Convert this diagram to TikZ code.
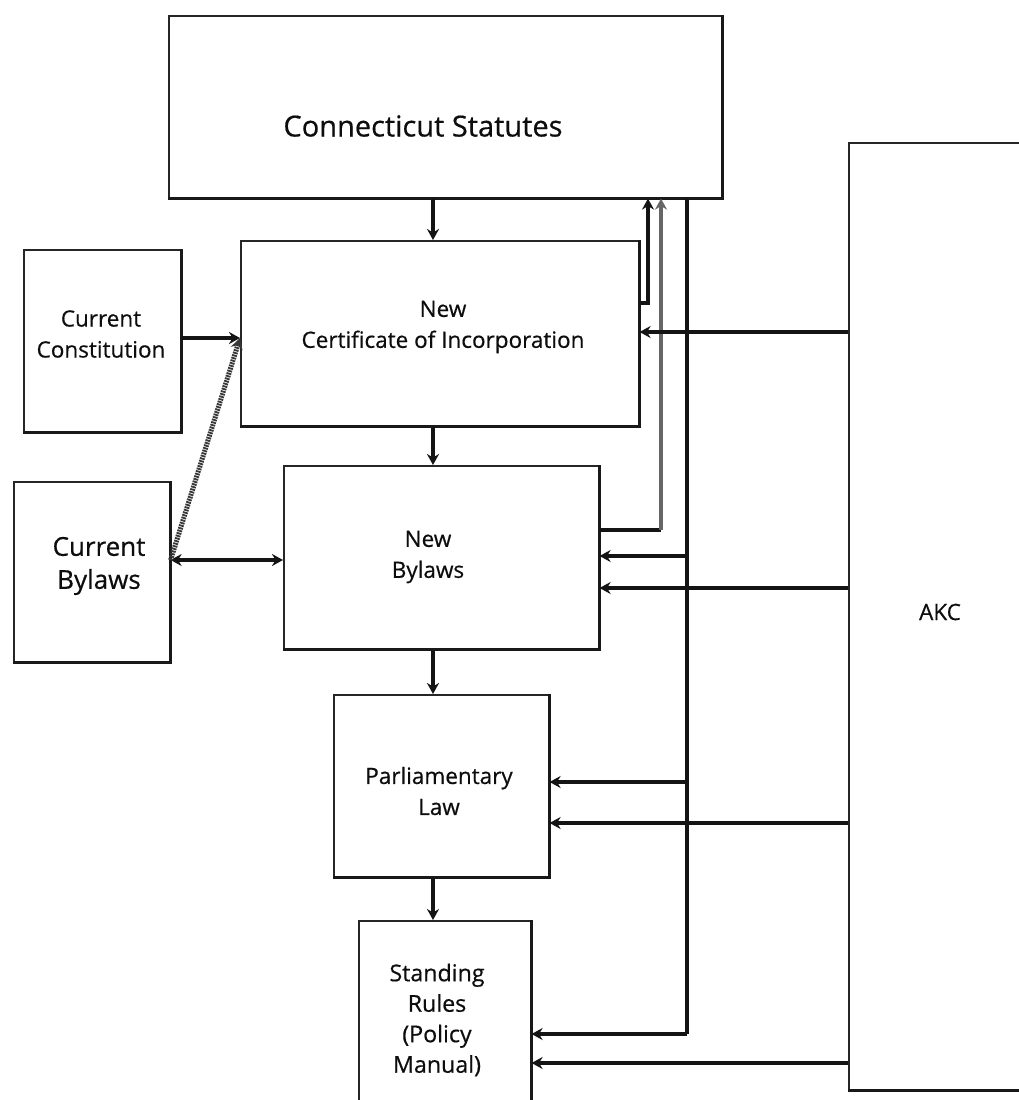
\documentclass[tikz,border=0pt]{standalone}
\usepackage{fontspec}
\setmainfont{Open Sans}[FakeBold=0.5]
\usetikzlibrary{arrows.meta}
\begin{document}
\begin{tikzpicture}[x=1pt,y=-1pt,
  box/.style={draw=black!85, line width=1.6pt, rectangle, anchor=north west, inner sep=0pt},
  shadowedge/.style={draw=black!90, line width=3.2pt},
  txt/.style={align=center, text=black!95, font=\fontsize{22.5}{31}\selectfont},
  arr/.style={draw=black!92, line width=3.6pt, -{Stealth[length=11pt,width=12pt]}},
  dblarr/.style={draw=black!92, line width=3.6pt, {Stealth[length=11pt,width=12pt]}-{Stealth[length=11pt,width=12pt]}},
  plain/.style={draw=black!92, line width=3.6pt},
  grayarr/.style={draw=black!60, line width=3.6pt, -{Stealth[length=11pt,width=12pt]}},
  hatcharr/.style={draw=black!78, line width=5pt, dash pattern=on 1.8pt off 0.9pt, -{Stealth[length=11pt,width=12pt]}},
]
\useasboundingbox (0,0) rectangle (1018,1100);
\fill[white] (0,0) rectangle (1018,1100);

% boxes
\node[box, minimum width=553, minimum height=182] (cs) at (168,15) {};
\node[box, minimum width=398, minimum height=185] (nci) at (240,240) {};
\node[box, minimum width=157, minimum height=182] (cc) at (23,249) {};
\node[box, minimum width=156, minimum height=180] (cb) at (13,481) {};
\node[box, minimum width=315, minimum height=183] (nb) at (283,465) {};
\node[box, minimum width=215, minimum height=182] (pl) at (333,694) {};
\node[box, minimum width=172, minimum height=220] (sr) at (358,920) {};
\node[box, minimum width=190, minimum height=947] (akc) at (848,142) {};

\foreach \b in {cs,nci,cc,cb,nb,pl,sr}{
  \draw[shadowedge] (\b.north east) -- (\b.south east) -- (\b.south west);
}
\draw[shadowedge] (akc.south west) -- (akc.south east);

% texts
\node[txt, font=\fontsize{29}{34}\selectfont] (cst) at (423,126) {Connecticut Statutes};
\node[txt] (ncit) at (443,327) {New\\Certificate of Incorporation};
\node[txt] (cct) at (101,334) {Current\\Constitution};
\node[txt, font=\fontsize{26}{33}\selectfont] (cbt) at (99,566) {Current\\Bylaws};
\node[txt] (nbt) at (428,557) {New\\Bylaws};
\node[txt] (plt) at (439,791) {Parliamentary\\Law};
\node[txt, font=\fontsize{23.2}{30.5}\selectfont] (srt) at (437,1020) {Standing\\Rules\\(Policy\\Manual)};
\node[txt] (akct) at (940,612) {AKC};

% reference coordinates
\coordinate (axis) at (433,0);
\coordinate (bus) at (687,0);
\coordinate (upA) at (648,0);
\coordinate (upB) at (661,0);
\coordinate (yCC) at (0,338);
\coordinate (yCB) at (0,560);
\coordinate (yNCIup) at (0,303);
\coordinate (yNBup) at (0,530);
\coordinate (yAkcNci) at (0,332);
\coordinate (yBusNb) at (0,556);
\coordinate (yAkcNb) at (0,588);
\coordinate (yBusPl) at (0,782);
\coordinate (yAkcPl) at (0,823);
\coordinate (yBusSr) at (0,1034);
\coordinate (yAkcSr) at (0,1063);

% main chain
\draw[arr] (cs.south -| axis) -- (nci.north -| axis);
\draw[arr] (nci.south -| axis) -- (nb.north -| axis);
\draw[arr] (nb.south -| axis) -- (pl.north -| axis);
\draw[arr] (pl.south -| axis) -- (sr.north -| axis);

% left inputs
\draw[arr] (cc.east |- yCC) -- (nci.west |- yCC);
\draw[dblarr] (cb.east |- yCB) -- (nb.west |- yCB);
\draw[hatcharr] (cb.east |- yCB) -- (nci.west |- yCC);

% feedback to statutes
\draw[arr] (nci.east |- yNCIup) -| (cs.south -| upA);
\draw[plain] (nb.east |- yNBup) -- (upB |- yNBup);
\draw[grayarr] (upB |- yNBup) -- (cs.south -| upB);

% statutes bus
\draw[plain] (cs.south -| bus) -- (bus |- yBusSr);
\draw[arr] (bus |- yBusNb) -- (nb.east |- yBusNb);
\draw[arr] (bus |- yBusPl) -- (pl.east |- yBusPl);
\draw[arr] (bus |- yBusSr) -- (sr.east |- yBusSr);

% AKC inputs
\draw[arr] (akc.west |- yAkcNci) -- (nci.east |- yAkcNci);
\draw[arr] (akc.west |- yAkcNb) -- (nb.east |- yAkcNb);
\draw[arr] (akc.west |- yAkcPl) -- (pl.east |- yAkcPl);
\draw[arr] (akc.west |- yAkcSr) -- (sr.east |- yAkcSr);
\end{tikzpicture}
\end{document}
